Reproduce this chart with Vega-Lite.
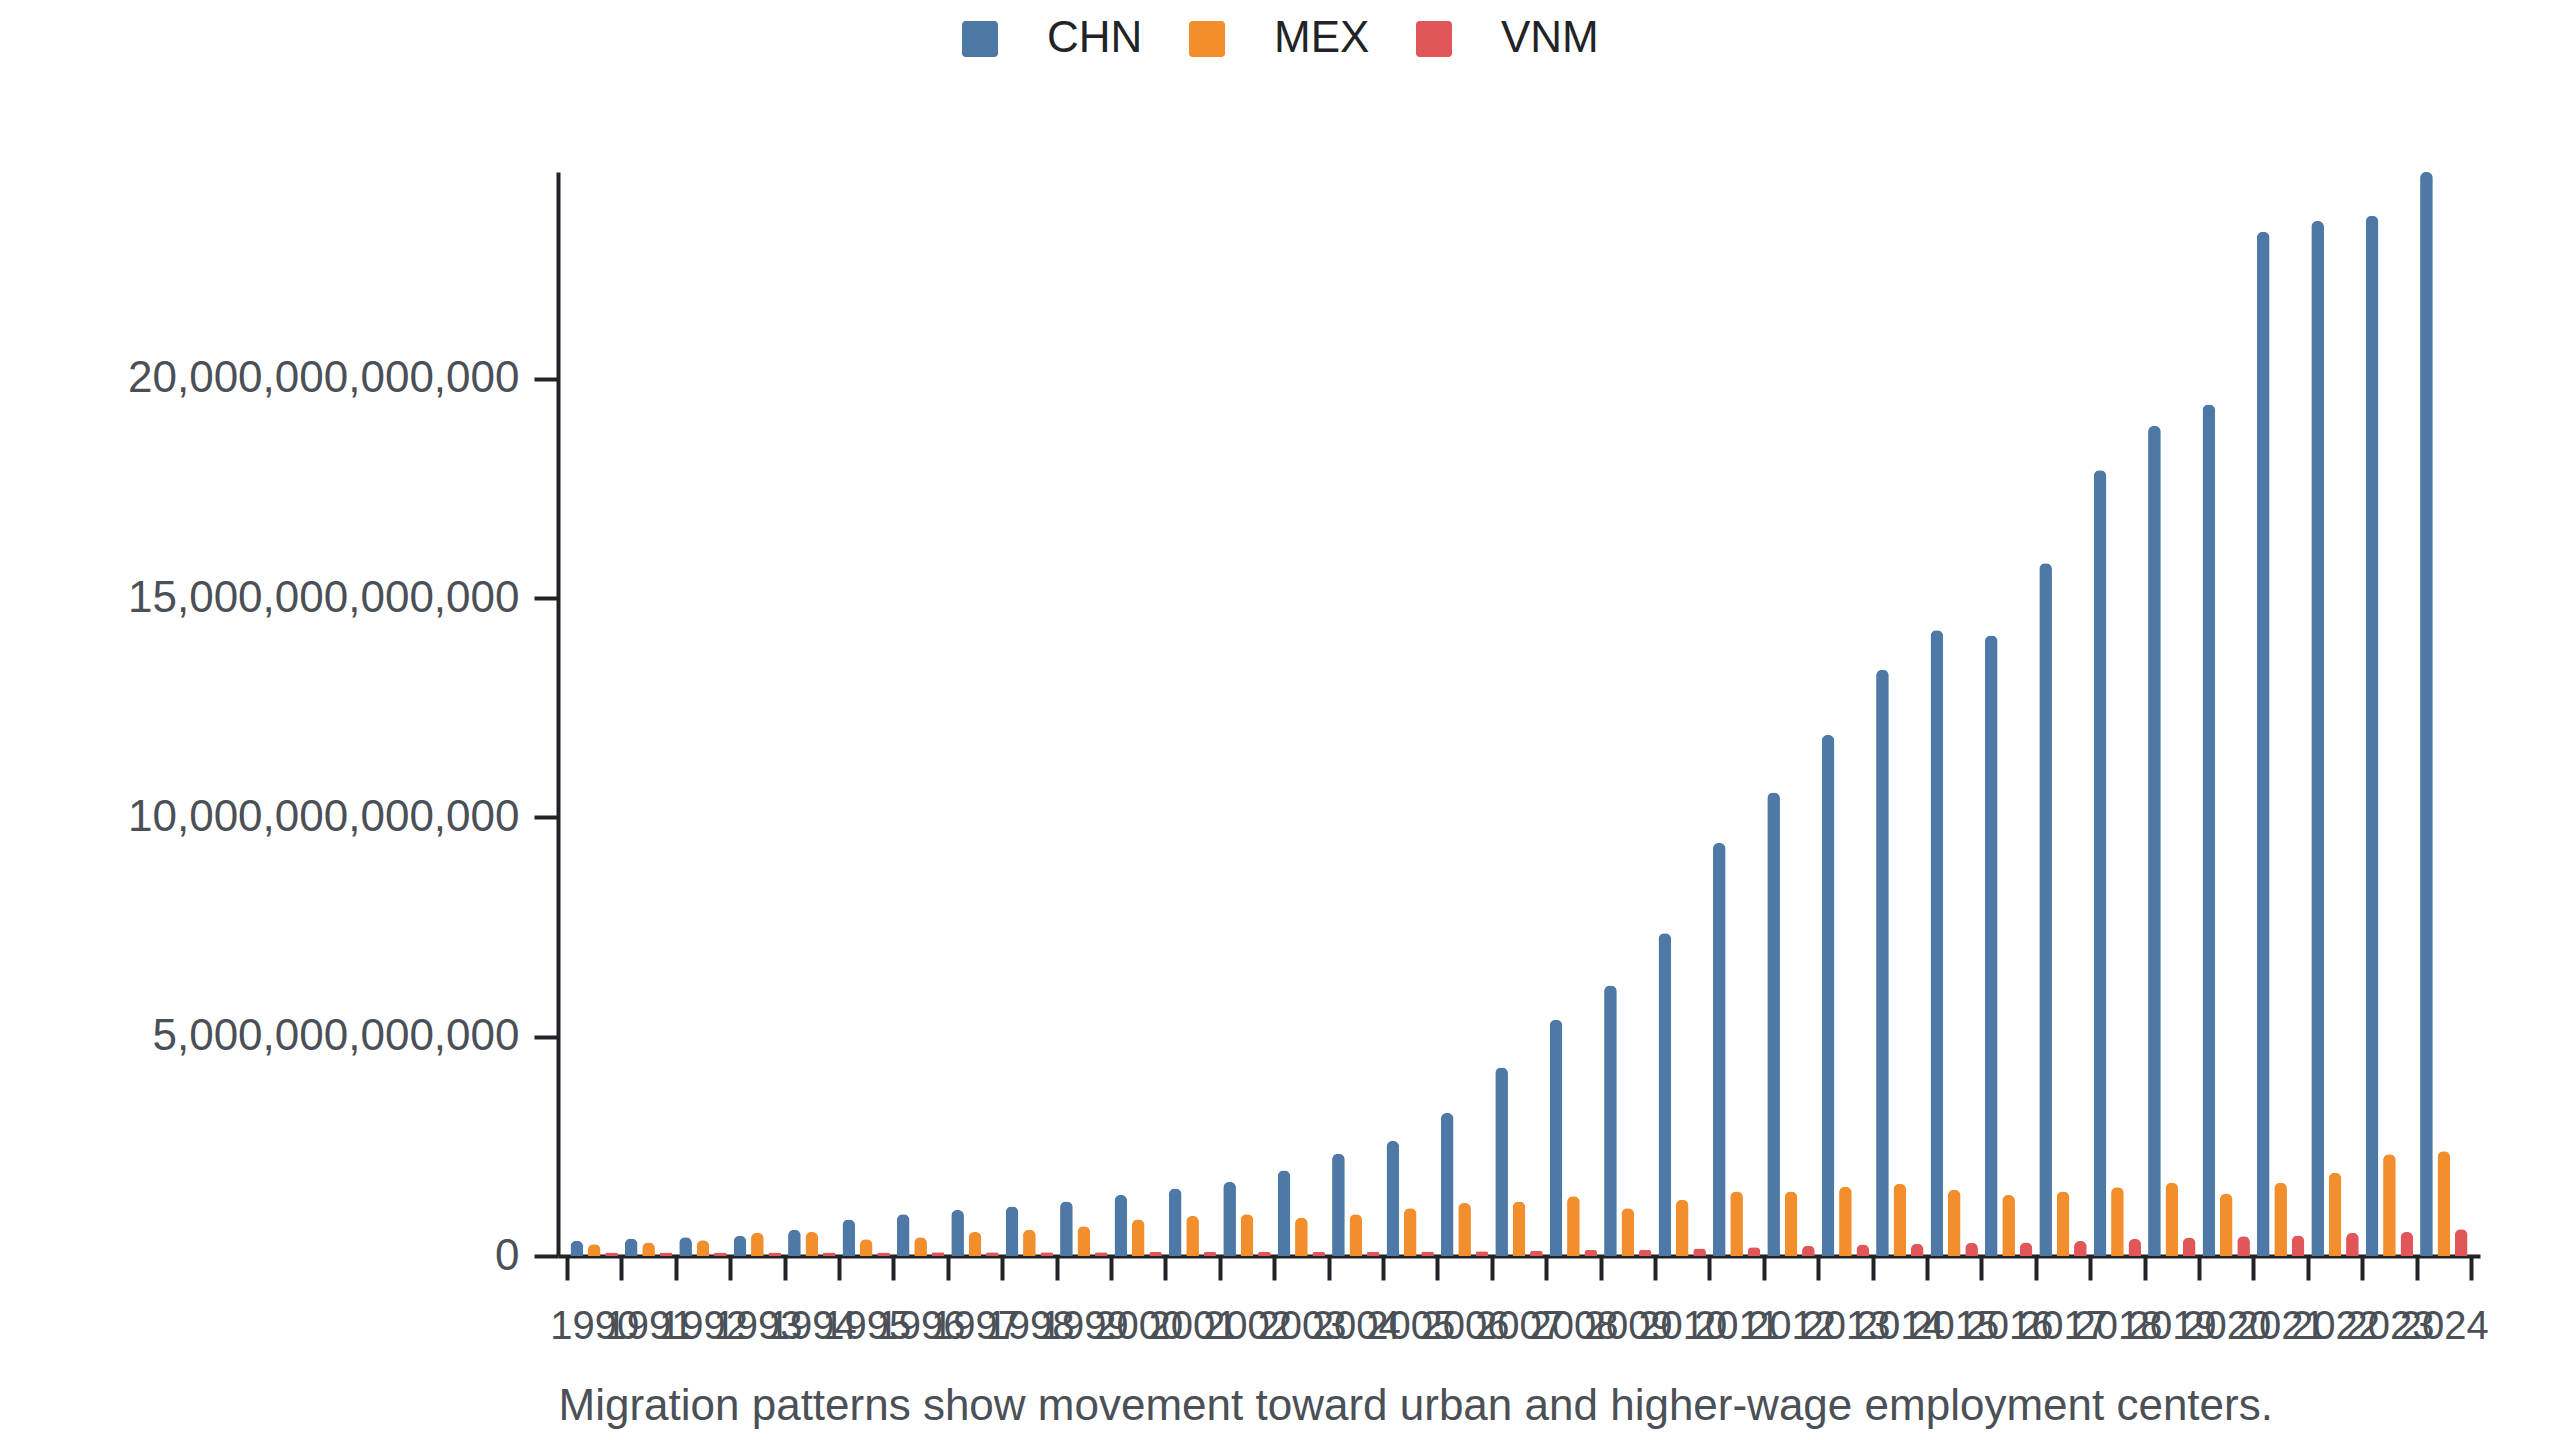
{
  "$schema": "https://vega.github.io/schema/vega-lite/v6.json",
  "autosize": "none",
  "width": 1922,
  "height": 1084,
  "padding": {"left": 558, "top": 172, "right": 80, "bottom": 184},
  "background": "white",
  "data": {
    "values": [
      {"year": "1990", "country": "CHN", "value": 3.5e11}, {"year": "1990", "country": "MEX", "value": 2.7e11}, {"year": "1990", "country": "VNM", "value": 8e10},
      {"year": "1991", "country": "CHN", "value": 4.0e11}, {"year": "1991", "country": "MEX", "value": 3.1e11}, {"year": "1991", "country": "VNM", "value": 8e10},
      {"year": "1992", "country": "CHN", "value": 4.3e11}, {"year": "1992", "country": "MEX", "value": 3.6e11}, {"year": "1992", "country": "VNM", "value": 8e10},
      {"year": "1993", "country": "CHN", "value": 4.6e11}, {"year": "1993", "country": "MEX", "value": 5.3e11}, {"year": "1993", "country": "VNM", "value": 8e10},
      {"year": "1994", "country": "CHN", "value": 6.0e11}, {"year": "1994", "country": "MEX", "value": 5.5e11}, {"year": "1994", "country": "VNM", "value": 8e10},
      {"year": "1995", "country": "CHN", "value": 8.3e11}, {"year": "1995", "country": "MEX", "value": 3.8e11}, {"year": "1995", "country": "VNM", "value": 8e10},
      {"year": "1996", "country": "CHN", "value": 9.5e11}, {"year": "1996", "country": "MEX", "value": 4.3e11}, {"year": "1996", "country": "VNM", "value": 8.5e10},
      {"year": "1997", "country": "CHN", "value": 1.05e12}, {"year": "1997", "country": "MEX", "value": 5.5e11}, {"year": "1997", "country": "VNM", "value": 8.5e10},
      {"year": "1998", "country": "CHN", "value": 1.13e12}, {"year": "1998", "country": "MEX", "value": 6.0e11}, {"year": "1998", "country": "VNM", "value": 8.5e10},
      {"year": "1999", "country": "CHN", "value": 1.24e12}, {"year": "1999", "country": "MEX", "value": 6.8e11}, {"year": "1999", "country": "VNM", "value": 8.5e10},
      {"year": "2000", "country": "CHN", "value": 1.39e12}, {"year": "2000", "country": "MEX", "value": 8.3e11}, {"year": "2000", "country": "VNM", "value": 9e10},
      {"year": "2001", "country": "CHN", "value": 1.54e12}, {"year": "2001", "country": "MEX", "value": 9.1e11}, {"year": "2001", "country": "VNM", "value": 9e10},
      {"year": "2002", "country": "CHN", "value": 1.69e12}, {"year": "2002", "country": "MEX", "value": 9.5e11}, {"year": "2002", "country": "VNM", "value": 9e10},
      {"year": "2003", "country": "CHN", "value": 1.95e12}, {"year": "2003", "country": "MEX", "value": 8.7e11}, {"year": "2003", "country": "VNM", "value": 9e10},
      {"year": "2004", "country": "CHN", "value": 2.33e12}, {"year": "2004", "country": "MEX", "value": 9.5e11}, {"year": "2004", "country": "VNM", "value": 9.5e10},
      {"year": "2005", "country": "CHN", "value": 2.62e12}, {"year": "2005", "country": "MEX", "value": 1.09e12}, {"year": "2005", "country": "VNM", "value": 1.0e11},
      {"year": "2006", "country": "CHN", "value": 3.26e12}, {"year": "2006", "country": "MEX", "value": 1.21e12}, {"year": "2006", "country": "VNM", "value": 1.1e11},
      {"year": "2007", "country": "CHN", "value": 4.30e12}, {"year": "2007", "country": "MEX", "value": 1.24e12}, {"year": "2007", "country": "VNM", "value": 1.2e11},
      {"year": "2008", "country": "CHN", "value": 5.39e12}, {"year": "2008", "country": "MEX", "value": 1.36e12}, {"year": "2008", "country": "VNM", "value": 1.4e11},
      {"year": "2009", "country": "CHN", "value": 6.17e12}, {"year": "2009", "country": "MEX", "value": 1.09e12}, {"year": "2009", "country": "VNM", "value": 1.4e11},
      {"year": "2010", "country": "CHN", "value": 7.36e12}, {"year": "2010", "country": "MEX", "value": 1.28e12}, {"year": "2010", "country": "VNM", "value": 1.7e11},
      {"year": "2011", "country": "CHN", "value": 9.42e12}, {"year": "2011", "country": "MEX", "value": 1.47e12}, {"year": "2011", "country": "VNM", "value": 2.0e11},
      {"year": "2012", "country": "CHN", "value": 1.057e13}, {"year": "2012", "country": "MEX", "value": 1.47e12}, {"year": "2012", "country": "VNM", "value": 2.3e11},
      {"year": "2013", "country": "CHN", "value": 1.188e13}, {"year": "2013", "country": "MEX", "value": 1.58e12}, {"year": "2013", "country": "VNM", "value": 2.6e11},
      {"year": "2014", "country": "CHN", "value": 1.337e13}, {"year": "2014", "country": "MEX", "value": 1.65e12}, {"year": "2014", "country": "VNM", "value": 2.8e11},
      {"year": "2015", "country": "CHN", "value": 1.427e13}, {"year": "2015", "country": "MEX", "value": 1.51e12}, {"year": "2015", "country": "VNM", "value": 3.0e11},
      {"year": "2016", "country": "CHN", "value": 1.415e13}, {"year": "2016", "country": "MEX", "value": 1.39e12}, {"year": "2016", "country": "VNM", "value": 3.1e11},
      {"year": "2017", "country": "CHN", "value": 1.580e13}, {"year": "2017", "country": "MEX", "value": 1.47e12}, {"year": "2017", "country": "VNM", "value": 3.4e11},
      {"year": "2018", "country": "CHN", "value": 1.792e13}, {"year": "2018", "country": "MEX", "value": 1.57e12}, {"year": "2018", "country": "VNM", "value": 3.9e11},
      {"year": "2019", "country": "CHN", "value": 1.893e13}, {"year": "2019", "country": "MEX", "value": 1.67e12}, {"year": "2019", "country": "VNM", "value": 4.2e11},
      {"year": "2020", "country": "CHN", "value": 1.942e13}, {"year": "2020", "country": "MEX", "value": 1.42e12}, {"year": "2020", "country": "VNM", "value": 4.5e11},
      {"year": "2021", "country": "CHN", "value": 2.336e13}, {"year": "2021", "country": "MEX", "value": 1.67e12}, {"year": "2021", "country": "VNM", "value": 4.7e11},
      {"year": "2022", "country": "CHN", "value": 2.360e13}, {"year": "2022", "country": "MEX", "value": 1.90e12}, {"year": "2022", "country": "VNM", "value": 5.3e11},
      {"year": "2023", "country": "CHN", "value": 2.372e13}, {"year": "2023", "country": "MEX", "value": 2.32e12}, {"year": "2023", "country": "VNM", "value": 5.5e11},
      {"year": "2024", "country": "CHN", "value": 2.472e13}, {"year": "2024", "country": "MEX", "value": 2.39e12}, {"year": "2024", "country": "VNM", "value": 6.1e11}
    ]
  },
  "mark": {"type": "bar", "cornerRadiusEnd": 6},
  "encoding": {
    "x": {
      "field": "year",
      "type": "ordinal",
      "scale": {"paddingInner": 0, "paddingOuter": 0.165},
      "axis": {
        "title": "Migration patterns show movement toward urban and higher-wage employment centers.",
        "titleFontSize": 44,
        "titleFontWeight": "normal",
        "titleColor": "#4b5057",
        "titleAnchor": "start",
        "titleAlign": "left",
        "titlePadding": 38,
        "labelAngle": 0,
        "labelFontSize": 40,
        "labelColor": "#4b5057",
        "labelPadding": 26,
        "labelOverlap": false,
        "tickBand": "extent",
        "tickSize": 24,
        "tickWidth": 4
      }
    },
    "xOffset": {
      "field": "country",
      "type": "nominal",
      "scale": {"paddingInner": 0.27, "paddingOuter": 0.2}
    },
    "y": {
      "field": "value",
      "type": "quantitative",
      "scale": {"nice": false, "zero": true},
      "axis": {
        "title": null,
        "values": [0, 5000000000000, 10000000000000, 15000000000000, 20000000000000],
        "format": ",.0f",
        "labelFontSize": 44,
        "labelColor": "#4b5057",
        "labelPadding": 15,
        "labelLimit": 1000,
        "tickSize": 24,
        "tickWidth": 4
      }
    },
    "color": {
      "field": "country",
      "type": "nominal",
      "scale": {"domain": ["CHN", "MEX", "VNM"], "range": ["#4e79a7", "#f28e2b", "#e15759"]},
      "legend": {
        "title": null,
        "orient": "none",
        "direction": "horizontal",
        "legendX": 400,
        "legendY": -155,
        "padding": 0,
        "symbolType": "M -0.8,-1 H 0.8 A 0.2,0.2 0 0 1 1,-0.8 V 0.8 A 0.2,0.2 0 0 1 0.8,1 H -0.8 A 0.2,0.2 0 0 1 -1,0.8 V -0.8 A 0.2,0.2 0 0 1 -0.8,-1 Z",
        "symbolSize": 1296,
        "symbolStrokeWidth": 0,
        "labelFontSize": 44,
        "labelColor": "#222326",
        "labelOffset": 45,
        "columnPadding": 42
      }
    }
  },
  "config": {
    "font": "Liberation Sans",
    "view": {"stroke": null},
    "axis": {
      "grid": false,
      "domainColor": "#222326",
      "domainWidth": 4,
      "tickColor": "#222326"
    }
  }
}
